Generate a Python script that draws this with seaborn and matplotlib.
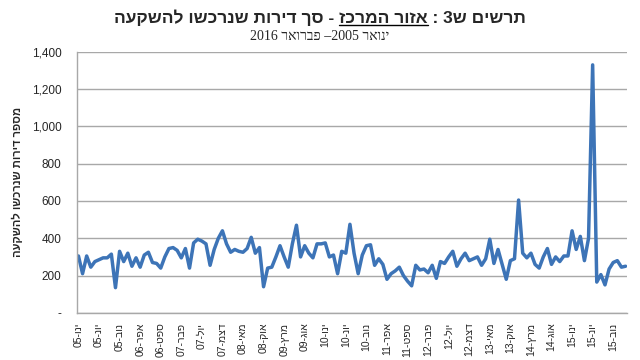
import numpy as np
import pandas as pd
import matplotlib
matplotlib.use("Agg")
import matplotlib.pyplot as plt
import seaborn as sns

# נתונים חודשיים ינואר 2005 - פברואר 2016 (נקראו מהתרשים)
dirot = [305, 210, 305, 245, 275, 285, 295, 295, 315, 135,
         330, 275, 320, 250, 295, 245, 310, 325, 270, 265,
         240, 300, 345, 350, 335, 295, 345, 240, 375, 395,
         385, 370, 255, 340, 400, 440, 370, 325, 340, 330,
         325, 345, 405, 320, 350, 140, 240, 245, 300, 360,
         300, 245, 370, 470, 300, 360, 320, 295, 370, 370,
         375, 300, 310, 210, 330, 320, 475, 320, 210, 310,
         360, 365, 255, 290, 260, 180, 210, 225, 245, 200,
         170, 145, 255, 230, 235, 215, 255, 185, 275, 265,
         300, 330, 250, 290, 320, 280, 290, 300, 255, 290,
         395, 265, 340, 260, 180, 280, 290, 605, 320, 295,
         320, 260, 240, 300, 345, 260, 300, 275, 305, 305,
         440, 340, 410, 280, 400, 1330, 165, 205, 150, 235,
         270, 280, 245, 250]

tick_labels = ["ינו-05", "יונ-05", "נוב-05", "אפר-06", "ספט-06", "פבר-07",
               "יול-07", "דצמ-07", "מאי-08", "אוק-08", "מרץ-09", "אוג-09",
               "ינו-10", "יונ-10", "נוב-10", "אפר-11", "ספט-11", "פבר-12",
               "יול-12", "דצמ-12", "מאי-13", "אוק-13", "מרץ-14", "אוג-14",
               "ינו-15", "יונ-15", "נוב-15"]
tick_pos = list(range(0, 131, 5))

y_ticks = [0, 200, 400, 600, 800, 1000, 1200, 1400]
y_labels = ["-", "200", "400", "600", "800", "1,000", "1,200", "1,400"]

title_right = "תרשים ש3 : "
title_mid = "אזור המרכז"
title_left = " - סך דירות שנרכשו להשקעה"
subtitle = "ינואר 2005– פברואר 2016"
ylabel = "מספר דירות שנרכשו להשקעה"


def heb(s):
    # matplotlib לא עושה bidi - הופכים את הסדר ומחזירים מספרים לכיוון רגיל
    r = s[::-1]
    out, num = "", ""
    for ch in r:
        if ch.isdigit():
            num += ch
        else:
            out += num[::-1] + ch
            num = ""
    return out + num[::-1]


df = pd.DataFrame({"i": np.arange(len(dirot)), "dirot": dirot})

sns.set_style("white")
plt.rcParams['font.family'] = ['Liberation Sans', 'DejaVu Sans']

fig = plt.figure(figsize=(6.4, 3.6), dpi=100)
ax = fig.add_axes([0.12, 0.131, 0.86, 0.725])

sns.lineplot(data=df, x="i", y="dirot", ax=ax, color="#3d74b7", linewidth=2.5,
             solid_joinstyle="round", solid_capstyle="round")

ax.set_xlim(-0.4, 133.4)
ax.set_ylim(0, 1400)
ax.set_yticks(y_ticks)
ax.set_yticklabels(y_labels, fontsize=8.5)
ax.set_xticks(tick_pos)
ax.set_xticklabels([heb(t) for t in tick_labels], rotation=90, fontsize=7.5)
ax.set_xlabel("")
ax.set_ylabel(heb(ylabel), fontsize=8, fontweight="bold", labelpad=6)

ax.grid(axis="y", color="#a8a8a8", linewidth=1)
ax.set_axisbelow(True)
for s in ["top", "right"]:
    ax.spines[s].set_visible(False)
for s in ["left", "bottom"]:
    ax.spines[s].set_color("#a8a8a8")
    ax.spines[s].set_linewidth(1)
ax.tick_params(axis="both", direction="out", length=4, color="#a8a8a8", width=1, pad=3)
ax.tick_params(axis="y", pad=7)

# כותרת עם קו תחתון מתחת ל"אזור המרכז"
full = heb(title_right + title_mid + title_left)
tt = fig.text(0.5, 0.952, full, ha="center", va="center", fontsize=12.5, fontweight="bold")
fig.text(0.5, 0.9, heb(subtitle), ha="center", va="center", fontsize=10,
         family=['Liberation Serif', 'DejaVu Serif'])

fig.canvas.draw()
r = fig.canvas.get_renderer()
bb = tt.get_window_extent(r)
tmp = fig.text(0, 0, heb(title_left), fontsize=12.5, fontweight="bold")
w_left = tmp.get_window_extent(r).width
tmp.set_text(heb(title_mid))
w_mid = tmp.get_window_extent(r).width
tmp.remove()
x0 = (bb.x0 + w_left) / fig.bbox.width
x1 = (bb.x0 + w_left + w_mid) / fig.bbox.width
yl = (bb.y0 + 1) / fig.bbox.height
fig.add_artist(plt.Line2D([x0, x1], [yl, yl], color="black", linewidth=1, transform=fig.transFigure))

fig.savefig("out.png", dpi=100)
